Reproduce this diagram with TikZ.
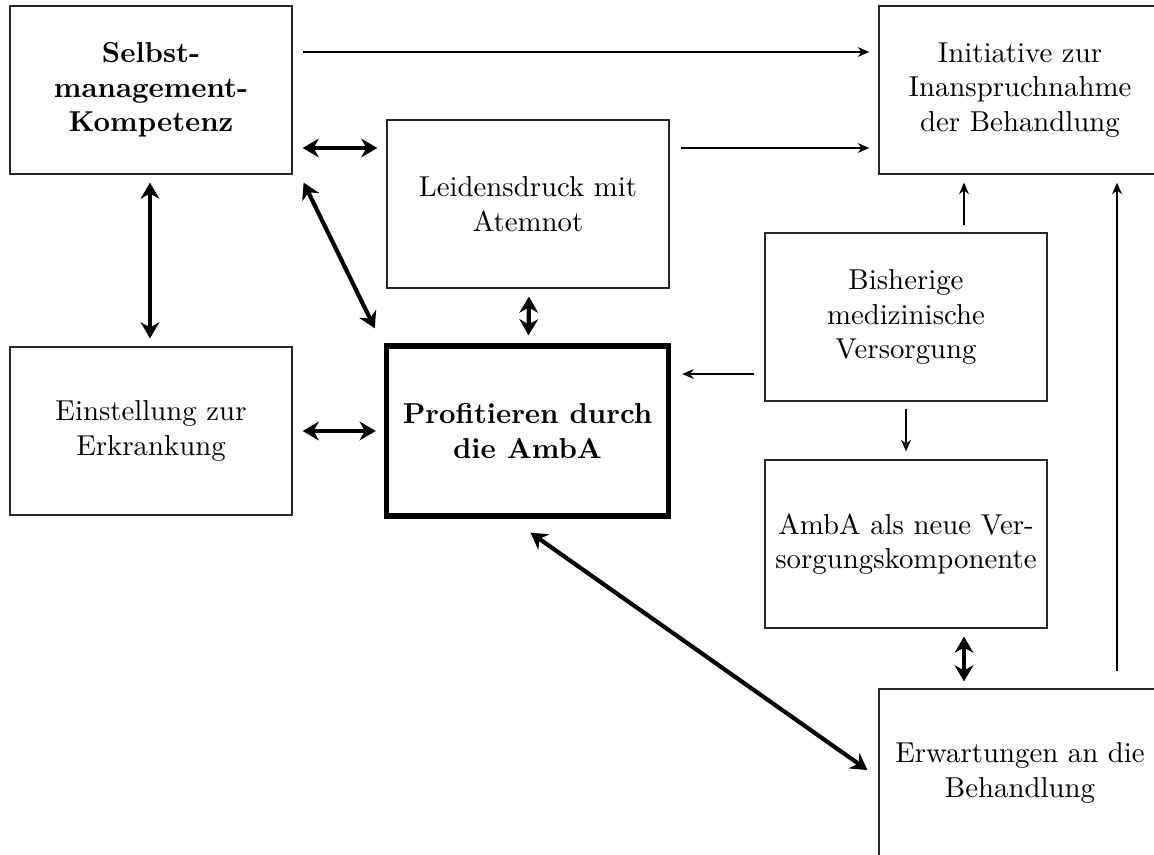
\documentclass[tikz,border=0pt]{standalone}
\usetikzlibrary{arrows.meta,calc}
\begin{document}
\begin{tikzpicture}[x=0.3472pt,y=-0.3472pt,
  box/.style={draw=black!85, line width=0.45pt, minimum width=97.9pt, minimum height=58.3pt, align=center, inner sep=0pt},
  mainbox/.style={box, draw=black, line width=1.9pt, minimum height=59pt},
  dbl/.style={line width=1.45pt, {Stealth[length=5.6pt,width=6.5pt]}-{Stealth[length=5.6pt,width=6.5pt]}},
  one/.style={line width=0.7pt, -{Stealth[length=4pt,width=3.4pt]}}]
\useasboundingbox (0,0) rectangle (1154,854);
\clip (0,0) rectangle (1154,854);
\node[box] (sel) at (151,90) {\bfseries Selbst-\\\bfseries management-\\\bfseries Kompetenz};
\node[box] (ini) at (1020,90) {Initiative zur\\Inanspruchnahme\\der Behandlung};
\node[box] (lei) at (528,204) {Leidensdruck mit\\Atemnot};
\node[box] (bis) at (906,317) {Bisherige\\medizinische\\Versorgung};
\node[box] (ein) at (151,431) {Einstellung zur\\Erkrankung};
\node[mainbox] (pro) at (527.5,431) {\bfseries Profitieren durch\\\bfseries die AmbA};
\node[box] (amb) at (906,544) {AmbA als neue Ver-\\sorgungskomponente};
\node[box] (erw) at (1020,773) {Erwartungen an die\\Behandlung};
% connectors
\draw[one] ($(sel.east)+(10,-38)$) -- ($(ini.west)+(-9,-38)$);
\draw[one] ($(lei.east)+(11,-56)$) -- ($(ini.west)+(-9,58)$);
\draw[dbl] ($(sel.east)+(10,58)$) -- ($(lei.west)+(-9,-56)$);
\draw[dbl] ($(sel.south)+(-1,8)$) -- ($(ein.north)+(-1,-8)$);
\draw[dbl] ($(sel.south east)+(11,8)$) -- ($(pro.north west)+(-9,-15)$);
\draw[dbl] ($(lei.south)+(1,8)$) -- ($(pro.north)+(1,-8)$);
\draw[one] ($(bis.west)+(-10,57)$) -- ($(pro.east)+(11,-57)$);
\draw[one] ($(bis.north)+(58,-7)$) -- ($(ini.south)+(-56,8)$);
\draw[one] ($(bis.south)+(0,7)$) -- ($(amb.north)+(0,-8)$);
\draw[dbl] ($(ein.east)+(10,0)$) -- ($(pro.west)+(-8,0)$);
\draw[dbl] ($(pro.south)+(3,14)$) -- ($(erw.west)+(-11,-3)$);
\draw[dbl] ($(amb.south)+(58,8)$) -- ($(erw.north)+(-56,-7)$);
\draw[one] ($(erw.north)+(97,-17)$) -- ($(ini.south)+(97,8)$);
\end{tikzpicture}
\end{document}
